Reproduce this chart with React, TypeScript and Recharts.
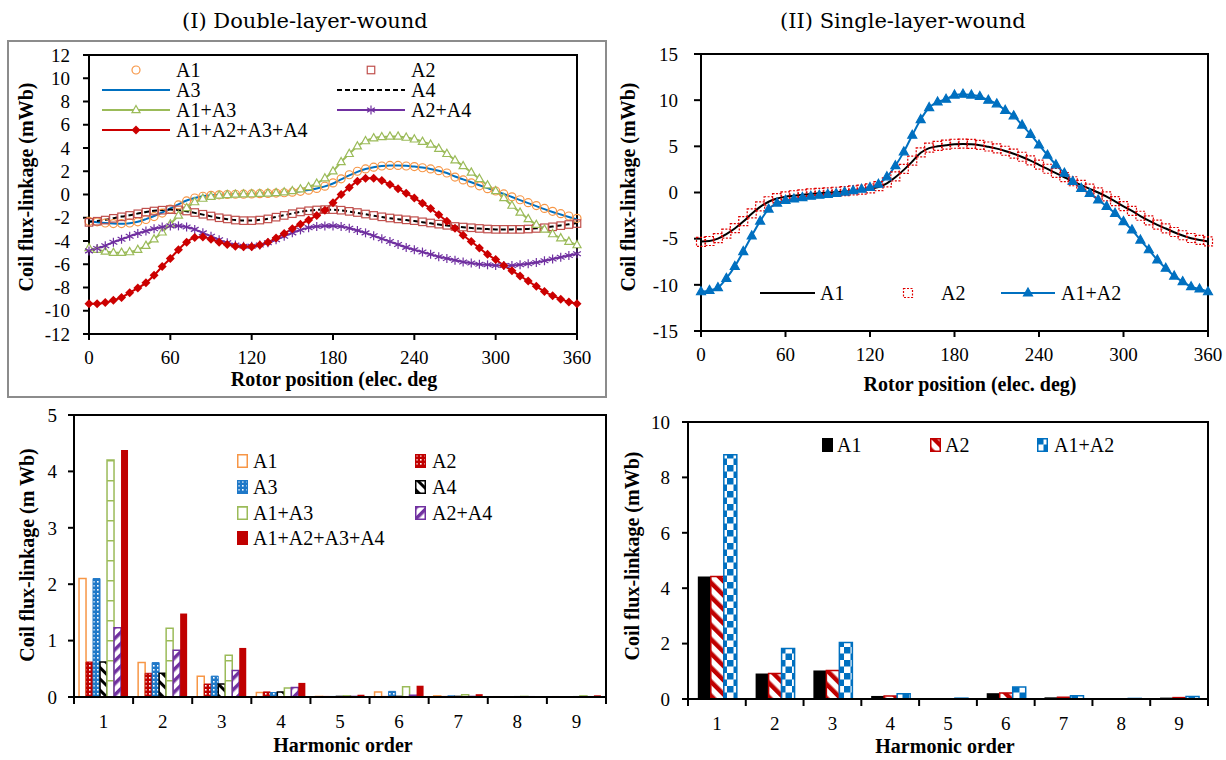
import React from "react";
import { LineChart, Line, XAxis, YAxis, ReferenceArea, BarChart, Bar } from "recharts";

const SERIF = "'Liberation Serif', 'Times New Roman', serif";
const TITLE_FONT = "'DejaVu Serif', serif";

const C = {
  orange: "#F79646",
  brown: "#C0504D",
  blue: "#0070C0",
  green: "#9BBB59",
  purple: "#7030A0",
  red: "#CC0000",
  black: "#000000",
};

/* ── data: rotor position (elec. deg) ───────────────────────── */
const angles = [
  0, 6, 12, 18, 24, 30, 36, 42, 48, 54, 60, 66, 72, 78, 84, 90, 96, 102, 108, 114, 120,
  126, 132, 138, 144, 150, 156, 162, 168, 174, 180, 186, 192, 198, 204, 210, 216, 222, 228,
  234, 240, 246, 252, 258, 264, 270, 276, 282, 288, 294, 300, 306, 312, 318, 324, 330, 336,
  342, 348, 354, 360,
];
const xTicks = [0, 60, 120, 180, 240, 300, 360];
const dlYTicks = [-12, -10, -8, -6, -4, -2, 0, 2, 4, 6, 8, 10, 12];
const slYTicks = [-15, -10, -5, 0, 5, 10, 15];

// (I) double-layer-wound flux-linkage (mWb)
const dlA1 = [
  -2.3, -2.35, -2.45, -2.5, -2.5, -2.45, -2.35, -2.15, -1.9, -1.6,
  -1.25, -0.9, -0.55, -0.3, -0.15, -0.07, -0.03, 0, 0.02, 0.03,
  0.05, 0.07, 0.09, 0.12, 0.15, 0.2, 0.27, 0.37, 0.52, 0.72,
  1.0, 1.35, 1.7, 2.0, 2.2, 2.35, 2.45, 2.5, 2.5, 2.45,
  2.4, 2.3, 2.2, 2.05, 1.85, 1.5, 1.25, 1.0, 0.75, 0.5,
  0.3, 0.05, -0.2, -0.45, -0.7, -0.95, -1.2, -1.45, -1.65, -1.85,
  -2.05,
];
const dlA2 = [
  -2.4, -2.3, -2.2, -2.05, -1.92, -1.8, -1.66, -1.52, -1.42, -1.35,
  -1.3, -1.32, -1.42, -1.55, -1.7, -1.85, -2.0, -2.1, -2.2, -2.25,
  -2.25, -2.2, -2.1, -1.95, -1.8, -1.65, -1.5, -1.4, -1.33, -1.3,
  -1.3, -1.35, -1.45, -1.55, -1.68, -1.8, -1.92, -2.02, -2.1, -2.18,
  -2.25, -2.35, -2.45, -2.55, -2.65, -2.75, -2.8, -2.86, -2.92, -2.97,
  -3.0, -3.0, -3.0, -3.0, -2.97, -2.92, -2.86, -2.78, -2.68, -2.58,
  -2.5,
];
const dlA3 = [
  -2.3, -2.38, -2.45, -2.5, -2.52, -2.47, -2.35, -2.12, -1.85, -1.55,
  -1.2, -0.85, -0.52, -0.3, -0.15, -0.08, -0.03, 0, 0.02, 0.03,
  0.05, 0.07, 0.09, 0.12, 0.16, 0.21, 0.28, 0.38, 0.52, 0.7,
  0.95, 1.3, 1.65, 1.95, 2.2, 2.35, 2.45, 2.5, 2.5, 2.47,
  2.4, 2.32, 2.2, 2.05, 1.85, 1.55, 1.3, 1.05, 0.8, 0.55,
  0.3, 0.05, -0.22, -0.48, -0.74, -1.0, -1.26, -1.5, -1.72, -1.94,
  -2.15,
];
const dlA4 = [
  -2.35, -2.27, -2.17, -2.04, -1.9, -1.78, -1.64, -1.5, -1.4, -1.33,
  -1.3, -1.34, -1.45, -1.58, -1.73, -1.88, -2.02, -2.12, -2.2, -2.24,
  -2.24, -2.18, -2.08, -1.93, -1.78, -1.63, -1.49, -1.39, -1.32, -1.3,
  -1.31, -1.37, -1.47, -1.58, -1.7, -1.82, -1.94, -2.04, -2.12, -2.2,
  -2.28, -2.38, -2.48, -2.58, -2.67, -2.76, -2.82, -2.88, -2.93, -2.97,
  -3.0, -3.0, -3.0, -2.99, -2.96, -2.91, -2.84, -2.76, -2.66, -2.56,
  -2.45,
];
const dlA1A3 = [
  -4.6, -4.75, -4.9, -5.0, -5.0, -4.95, -4.75, -4.4, -3.85, -3.25,
  -2.55, -1.8, -1.15, -0.65, -0.35, -0.18, -0.08, -0.03, 0, 0.02,
  0.04, 0.07, 0.1, 0.14, 0.2, 0.3, 0.45, 0.65, 0.95, 1.4,
  2.0, 2.8, 3.5, 4.15, 4.6, 4.85, 4.95, 5.0, 5.0, 4.9,
  4.75, 4.55, 4.3, 3.95, 3.5, 2.95, 2.45, 1.9, 1.35, 0.8,
  0.3, -0.3, -0.95, -1.55, -2.1, -2.6, -3.0, -3.4, -3.75, -4.05,
  -4.35,
];
const dlA2A4 = [
  -4.85, -4.65, -4.4, -4.1, -3.85, -3.6, -3.35, -3.15, -2.95, -2.8,
  -2.7, -2.7, -2.8, -3.0, -3.3, -3.6, -3.9, -4.15, -4.35, -4.45,
  -4.45, -4.35, -4.15, -3.9, -3.6, -3.3, -3.05, -2.85, -2.75, -2.7,
  -2.7, -2.75, -2.9, -3.1, -3.3, -3.55, -3.8, -4.05, -4.3, -4.55,
  -4.75, -4.95, -5.15, -5.35, -5.5, -5.65, -5.8, -5.9, -6.0, -6.05,
  -6.1, -6.1, -6.1, -6.05, -5.95, -5.85, -5.7, -5.55, -5.4, -5.25,
  -5.1,
];
const dlSum = [
  -9.4, -9.4, -9.3, -9.1, -8.85, -8.45, -8.05, -7.6, -6.95, -6.2,
  -5.5, -4.75, -4.1, -3.7, -3.65, -3.85, -4.1, -4.3, -4.45, -4.5,
  -4.5, -4.35, -4.1, -3.75, -3.35, -2.95, -2.55, -2.2, -1.8, -1.35,
  -0.7, 0.0, 0.6, 1.15, 1.4, 1.4, 1.2, 0.85, 0.5, 0.1,
  -0.3, -0.75, -1.2, -1.75, -2.3, -2.9, -3.5, -4.05, -4.6, -5.15,
  -5.6, -6.1, -6.55, -7.0, -7.45, -7.9, -8.35, -8.7, -9.0, -9.25,
  -9.4,
];

// (II) single-layer-wound flux-linkage (mWb)
const slA1 = [
  -5.3, -5.25, -5.0, -4.5, -3.9, -3.15, -2.3, -1.55, -1.0, -0.65,
  -0.45, -0.35, -0.25, -0.15, -0.08, 0, 0.05, 0.1, 0.18, 0.28,
  0.4, 0.6, 1.0, 1.65, 2.45, 3.35, 4.3, 4.8, 5.0, 5.12,
  5.22, 5.25, 5.22, 5.12, 4.95, 4.75, 4.5, 4.2, 3.85, 3.45,
  3.0, 2.55, 2.1, 1.65, 1.2, 0.8, 0.4, 0.0, -0.45, -0.95,
  -1.5, -2.0, -2.55, -3.05, -3.5, -3.9, -4.3, -4.65, -4.95, -5.15,
  -5.3,
];
const slA2 = [
  -5.35, -5.25, -4.95, -4.45, -3.85, -3.1, -2.25, -1.5, -0.95, -0.62,
  -0.42, -0.3, -0.2, -0.1, -0.04, 0.02, 0.08, 0.14, 0.22, 0.32,
  0.45, 0.68, 1.1, 1.75, 2.55, 3.45, 4.35, 4.85, 5.05, 5.18,
  5.28, 5.3, 5.27, 5.16, 4.98, 4.78, 4.52, 4.22, 3.87, 3.47,
  3.02, 2.57, 2.12, 1.67, 1.22, 0.82, 0.42, 0.02, -0.43, -0.93,
  -1.48, -1.98, -2.52, -3.02, -3.48, -3.88, -4.28, -4.63, -4.93, -5.13,
  -5.3,
];
const slA1A2 = [
  -10.75, -10.6, -10.3, -9.3, -8.0, -6.4, -4.7, -3.1, -1.8, -1.15,
  -0.85, -0.7, -0.55, -0.4, -0.3, -0.2, -0.1, 0.05, 0.2, 0.35,
  0.55, 0.9, 1.7, 2.9, 4.4, 6.2, 7.9, 9.2, 9.8, 10.1,
  10.55, 10.65, 10.55, 10.4, 10.0, 9.6, 8.9, 8.3, 7.3, 6.3,
  5.15, 4.05, 3.0, 2.1, 1.2, 0.45, -0.1, -0.8, -1.5, -2.25,
  -3.15, -4.05, -5.15, -6.2, -7.3, -8.2, -9.05, -9.65, -10.2, -10.45,
  -10.75,
];

/* ── data: harmonic spectra (mWb) ───────────────────────────── */
const harmonics = ["1", "2", "3", "4", "5", "6", "7", "8", "9"];
const dlBarTicks = [0, 1, 2, 3, 4, 5];
const slBarTicks = [0, 2, 4, 6, 8, 10];

const hA1 = [2.1, 0.61, 0.37, 0.08, 0.01, 0.09, 0.02, 0.005, 0.005];
const hA2 = [0.62, 0.42, 0.23, 0.09, 0.01, 0.01, 0.01, 0.005, 0.005];
const hA3 = [2.1, 0.61, 0.37, 0.08, 0.01, 0.1, 0.02, 0.005, 0.005];
const hA4 = [0.62, 0.42, 0.23, 0.09, 0.01, 0.01, 0.01, 0.005, 0.005];
const hA1A3 = [4.2, 1.22, 0.74, 0.16, 0.02, 0.18, 0.04, 0.01, 0.02];
const hA2A4 = [1.23, 0.83, 0.47, 0.17, 0.01, 0.03, 0.01, 0.005, 0.005];
const hSum = [4.38, 1.48, 0.87, 0.25, 0.04, 0.2, 0.05, 0.01, 0.03];

const sA1 = [4.42, 0.92, 1.03, 0.11, 0.01, 0.21, 0.06, 0.01, 0.05];
const sA2 = [4.42, 0.92, 1.03, 0.11, 0.01, 0.22, 0.06, 0.01, 0.05];
const sA1A2 = [8.82, 1.82, 2.04, 0.19, 0.03, 0.43, 0.12, 0.02, 0.09];

const dlLineData = angles.map((a, i) => ({
  a, A1: dlA1[i], A2: dlA2[i], A3: dlA3[i], A4: dlA4[i],
  A1A3: dlA1A3[i], A2A4: dlA2A4[i], Sum: dlSum[i],
}));
const slLineData = angles.map((a, i) => ({ a, A1: slA1[i], A2: slA2[i], A1A2: slA1A2[i] }));
const dlBarData = harmonics.map((h, i) => ({
  h, A1: hA1[i], A2: hA2[i], A3: hA3[i], A4: hA4[i], A1A3: hA1A3[i], A2A4: hA2A4[i], Sum: hSum[i],
}));
const slBarData = harmonics.map((h, i) => ({ h, A1: sA1[i], A2: sA2[i], A1A2: sA1A2[i] }));

/* ── marker shapes ─────────────────────────────────────────── */
type Shape = (cx: number, cy: number, key?: string) => React.ReactElement;

const circleShape = (color: string): Shape => (cx, cy, key) => (
  <circle key={key} cx={cx} cy={cy} r={4} fill="none" stroke={color} strokeWidth={1.2} />
);
const squareShape = (color: string, s: number, dash?: string): Shape => (cx, cy, key) => (
  <rect key={key} x={cx - s / 2} y={cy - s / 2} width={s} height={s} fill="none"
    stroke={color} strokeWidth={1.2} strokeDasharray={dash} />
);
const triangleShape = (color: string, s: number, filled: boolean): Shape => (cx, cy, key) => (
  <path key={key}
    d={`M${cx},${cy - s} L${cx + s * 0.9},${cy + s * 0.6} L${cx - s * 0.9},${cy + s * 0.6} Z`}
    fill={filled ? color : "#fff"} stroke={color} strokeWidth={1.2} />
);
const diamondShape = (color: string, s: number): Shape => (cx, cy, key) => (
  <path key={key} d={`M${cx},${cy - s} L${cx + s},${cy} L${cx},${cy + s} L${cx - s},${cy} Z`} fill={color} />
);
const starShape = (color: string, s: number): Shape => (cx, cy, key) => (
  <g key={key} stroke={color} strokeWidth={1.2}>
    <line x1={cx} y1={cy - s} x2={cx} y2={cy + s} />
    <line x1={cx - s * 0.87} y1={cy - s / 2} x2={cx + s * 0.87} y2={cy + s / 2} />
    <line x1={cx - s * 0.87} y1={cy + s / 2} x2={cx + s * 0.87} y2={cy - s / 2} />
  </g>
);

const asDot = (shape: Shape) => (p: { cx?: number; cy?: number; index?: number }) =>
  shape(p.cx ?? 0, p.cy ?? 0, `d${p.index}`);

const mA1 = circleShape(C.orange);
const mA2 = squareShape(C.brown, 7.5);
const mA1A3 = triangleShape(C.green, 4.5, false);
const mA2A4 = starShape(C.purple, 4.5);
const mSum = diamondShape(C.red, 4.5);
const mSlA2 = squareShape("#E00000", 9, "2 1.5");
const mSlA1A2 = triangleShape(C.blue, 5, true);

/* ── shared bits ───────────────────────────────────────────── */
const axisLine = { stroke: "#000", strokeWidth: 2 };
const tickFont = { fontSize: 19, fill: "#000", fontFamily: SERIF };

function BandTick(props: any) {
  const { x, y, payload, index, bw, count } = props;
  const half = bw / 2;
  return (
    <g>
      <line x1={x - half} x2={x - half} y1={y} y2={y + 7} stroke="#000" strokeWidth={2} />
      {index === count - 1 && (
        <line x1={x + half} x2={x + half} y1={y} y2={y + 7} stroke="#000" strokeWidth={2} />
      )}
      <text x={x} y={y + 31} textAnchor="middle" fontSize={19} fontFamily={SERIF} fill="#000">
        {payload.value}
      </text>
    </g>
  );
}

function LineSwatch({ w, color, dash, marker }: { w: number; color?: string; dash?: string; marker?: Shape }) {
  return (
    <svg width={w} height={20} style={{ display: "block" }}>
      {color && <line x1={0} x2={w} y1={10} y2={10} stroke={color} strokeWidth={2} strokeDasharray={dash} />}
      {marker && marker(w / 2, 10)}
    </svg>
  );
}

function BoxSwatch({ fill, stroke }: { fill: string; stroke: string }) {
  return (
    <svg width={11} height={14} style={{ display: "block" }}>
      <rect x={0.75} y={0.75} width={9.5} height={12.5} fill={fill} stroke={stroke} strokeWidth={1.5} />
    </svg>
  );
}

function LegendItem({ left, cy, gap, label, children }: {
  left: number; cy: number; gap: number; label: string; children: React.ReactNode;
}) {
  return (
    <div style={{
      position: "absolute", left, top: cy - 12, height: 24, display: "flex", alignItems: "center",
      fontFamily: SERIF, fontSize: 20, whiteSpace: "nowrap", lineHeight: "24px",
    }}>
      {children}
      <span style={{ marginLeft: gap }}>{label}</span>
    </div>
  );
}

function AxisTitle({ x, y, text, rotate }: { x: number; y: number; text: string; rotate?: boolean }) {
  return (
    <div style={{
      position: "absolute", left: x, top: y, whiteSpace: "nowrap",
      transform: `translate(-50%, -50%)${rotate ? " rotate(-90deg)" : ""}`,
      fontFamily: SERIF, fontWeight: "bold", fontSize: 20, lineHeight: "22px",
    }}>
      {text}
    </div>
  );
}

function Patterns() {
  return (
    <svg width={0} height={0} style={{ position: "absolute" }}>
      <defs>
        <pattern id="pA2" width={4} height={4} patternUnits="userSpaceOnUse">
          <rect width={4} height={4} fill="#C00000" />
          <rect x={1} y={1} width={1.6} height={1.6} fill="#fff" />
        </pattern>
        <pattern id="pA3" width={4} height={4} patternUnits="userSpaceOnUse">
          <rect width={4} height={4} fill="#1F78C8" />
          <rect x={1} y={1} width={1.6} height={1.6} fill="#fff" />
        </pattern>
        <pattern id="pA4" width={8} height={8} patternUnits="userSpaceOnUse" patternTransform="rotate(-45)">
          <rect width={8} height={8} fill="#fff" />
          <rect width={3} height={8} fill="#000" />
        </pattern>
        <pattern id="pA1A3" width={4} height={20} patternUnits="userSpaceOnUse">
          <rect width={4} height={20} fill="#fff" />
          <rect width={4} height={1.5} fill={C.green} />
        </pattern>
        <pattern id="pA2A4" width={8} height={8} patternUnits="userSpaceOnUse" patternTransform="rotate(45)">
          <rect width={8} height={8} fill="#fff" />
          <rect width={3.5} height={8} fill={C.purple} />
        </pattern>
        <pattern id="pSlA2" width={10} height={10} patternUnits="userSpaceOnUse" patternTransform="rotate(-45)">
          <rect width={10} height={10} fill="#fff" />
          <rect width={4.5} height={10} fill="#C00000" />
        </pattern>
        <pattern id="pSlA1A2" width={13} height={13} patternUnits="userSpaceOnUse">
          <rect width={13} height={13} fill="#fff" />
          <rect width={6.5} height={6.5} fill={C.blue} />
          <rect x={6.5} y={6.5} width={6.5} height={6.5} fill={C.blue} />
        </pattern>
      </defs>
    </svg>
  );
}

/* ── panels ────────────────────────────────────────────────── */
function DoubleLayerLines() {
  return (
    <div style={{ position: "absolute", left: 0, top: 0 }}>
      <LineChart width={610} height={400} data={dlLineData} margin={{ top: 55, right: 33, bottom: 36, left: 39 }}>
        <XAxis dataKey="a" type="number" domain={[0, 360]} ticks={xTicks} interval={0} height={30}
          axisLine={axisLine} tickLine={axisLine} tickSize={6} tickMargin={11} tick={tickFont} />
        <YAxis type="number" domain={[-12, 12]} ticks={dlYTicks} interval={0} width={50}
          axisLine={axisLine} tickLine={axisLine} tickSize={6} tickMargin={13} tick={tickFont} />
        <ReferenceArea y1={-12} y2={12} fill="none" stroke="#000" strokeWidth={2} />
        <Line dataKey="A1" type="monotone" stroke="none" dot={asDot(mA1)} activeDot={false} isAnimationActive={false} />
        <Line dataKey="A2" type="monotone" stroke="none" dot={asDot(mA2)} activeDot={false} isAnimationActive={false} />
        <Line dataKey="A3" type="monotone" stroke={C.blue} strokeWidth={2} dot={false} activeDot={false} isAnimationActive={false} />
        <Line dataKey="A4" type="monotone" stroke="#000" strokeWidth={2} strokeDasharray="5 3" dot={false} activeDot={false} isAnimationActive={false} />
        <Line dataKey="A1A3" type="monotone" stroke={C.green} strokeWidth={2} dot={asDot(mA1A3)} activeDot={false} isAnimationActive={false} />
        <Line dataKey="A2A4" type="monotone" stroke={C.purple} strokeWidth={2} dot={asDot(mA2A4)} activeDot={false} isAnimationActive={false} />
        <Line dataKey="Sum" type="monotone" stroke={C.red} strokeWidth={2} dot={asDot(mSum)} activeDot={false} isAnimationActive={false} />
      </LineChart>
    </div>
  );
}

function SingleLayerLines() {
  return (
    <div style={{ position: "absolute", left: 610, top: 0 }}>
      <LineChart width={616} height={400} data={slLineData} margin={{ top: 54, right: 18, bottom: 39, left: 41 }}>
        <XAxis dataKey="a" type="number" domain={[0, 360]} ticks={xTicks} interval={0} height={30}
          axisLine={axisLine} tickLine={axisLine} tickSize={6} tickMargin={11} tick={tickFont} />
        <YAxis type="number" domain={[-15, 15]} ticks={slYTicks} interval={0} width={50}
          axisLine={axisLine} tickLine={axisLine} tickSize={7} tickMargin={16} tick={tickFont} />
        <ReferenceArea y1={-15} y2={15} fill="none" stroke="#000" strokeWidth={2} />
        <Line dataKey="A1" type="monotone" stroke="#000" strokeWidth={2} dot={false} activeDot={false} isAnimationActive={false} />
        <Line dataKey="A2" type="monotone" stroke="none" dot={asDot(mSlA2)} activeDot={false} isAnimationActive={false} />
        <Line dataKey="A1A2" type="monotone" stroke={C.blue} strokeWidth={2} dot={asDot(mSlA1A2)} activeDot={false} isAnimationActive={false} />
      </LineChart>
    </div>
  );
}

const DL_BW = (610 - 34 - 40 - 4) / 9;
const SL_BW = (616 - 28 - 50 - 18) / 9;

function DoubleLayerBars() {
  return (
    <div style={{ position: "absolute", left: 0, top: 400 }}>
      <BarChart width={610} height={360} data={dlBarData} margin={{ top: 15, right: 4, bottom: 33, left: 34 }}
        barCategoryGap="8.5%" barGap={0}>
        <XAxis dataKey="h" height={30} interval={0} axisLine={axisLine} tickLine={false} tickSize={0} tickMargin={0}
          tick={<BandTick bw={DL_BW} count={harmonics.length} />} />
        <YAxis type="number" domain={[0, 5]} ticks={dlBarTicks} interval={0} width={40}
          axisLine={axisLine} tickLine={axisLine} tickSize={6} tickMargin={11} tick={tickFont} />
        <ReferenceArea y1={0} y2={5} fill="none" stroke="#000" strokeWidth={2} />
        <Bar dataKey="A1" fill="#fff" stroke={C.orange} strokeWidth={1.5} isAnimationActive={false} />
        <Bar dataKey="A2" fill="url(#pA2)" stroke="#C00000" strokeWidth={1} isAnimationActive={false} />
        <Bar dataKey="A3" fill="url(#pA3)" stroke="#1F78C8" strokeWidth={1} isAnimationActive={false} />
        <Bar dataKey="A4" fill="url(#pA4)" stroke="#000" strokeWidth={1.5} isAnimationActive={false} />
        <Bar dataKey="A1A3" fill="url(#pA1A3)" stroke={C.green} strokeWidth={1.5} isAnimationActive={false} />
        <Bar dataKey="A2A4" fill="url(#pA2A4)" stroke={C.purple} strokeWidth={1.5} isAnimationActive={false} />
        <Bar dataKey="Sum" fill="#C00000" isAnimationActive={false} />
      </BarChart>
    </div>
  );
}

function SingleLayerBars() {
  return (
    <div style={{ position: "absolute", left: 610, top: 400 }}>
      <BarChart width={616} height={360} data={slBarData} margin={{ top: 22, right: 18, bottom: 31, left: 28 }}
        barCategoryGap="17%" barGap={0}>
        <XAxis dataKey="h" height={30} interval={0} axisLine={axisLine} tickLine={false} tickSize={0} tickMargin={0}
          tick={<BandTick bw={SL_BW} count={harmonics.length} />} />
        <YAxis type="number" domain={[0, 10]} ticks={slBarTicks} interval={0} width={50}
          axisLine={axisLine} tickLine={axisLine} tickSize={6} tickMargin={12} tick={tickFont} />
        <ReferenceArea y1={0} y2={10} fill="none" stroke="#000" strokeWidth={2} />
        <Bar dataKey="A1" fill="#000" isAnimationActive={false} />
        <Bar dataKey="A2" fill="url(#pSlA2)" stroke="#C00000" strokeWidth={1.5} isAnimationActive={false} />
        <Bar dataKey="A1A2" fill="url(#pSlA1A2)" stroke={C.blue} strokeWidth={1.5} isAnimationActive={false} />
      </BarChart>
    </div>
  );
}

export default function App() {
  return (
    <div style={{
      position: "absolute", left: 0, top: 0, width: 1226, height: 760, background: "#fff",
      overflow: "hidden", fontFamily: SERIF, color: "#000",
    }}>
      <Patterns />

      {/* titles */}
      <div style={{ position: "absolute", left: 182, top: 8, fontFamily: TITLE_FONT, fontSize: 21, lineHeight: "26px", whiteSpace: "nowrap" }}>
        (I) Double-layer-wound
      </div>
      <div style={{ position: "absolute", left: 780, top: 8, fontFamily: TITLE_FONT, fontSize: 21, lineHeight: "26px", whiteSpace: "nowrap" }}>
        (II) Single-layer-wound
      </div>

      {/* frame round panel I */}
      <div style={{ position: "absolute", left: 7, top: 40, width: 596, height: 354, border: "2px solid #8c8c8c" }} />

      <DoubleLayerLines />
      <SingleLayerLines />
      <DoubleLayerBars />
      <SingleLayerBars />

      {/* legend: panel I lines */}
      <LegendItem left={102} cy={70} gap={6} label="A1"><LineSwatch w={68} marker={mA1} /></LegendItem>
      <LegendItem left={337} cy={70} gap={6} label="A2"><LineSwatch w={68} marker={mA2} /></LegendItem>
      <LegendItem left={102} cy={90} gap={6} label="A3"><LineSwatch w={68} color={C.blue} /></LegendItem>
      <LegendItem left={337} cy={90} gap={6} label="A4"><LineSwatch w={68} color="#000" dash="5 3" /></LegendItem>
      <LegendItem left={102} cy={110} gap={6} label="A1+A3"><LineSwatch w={68} color={C.green} marker={mA1A3} /></LegendItem>
      <LegendItem left={337} cy={110} gap={6} label="A2+A4"><LineSwatch w={68} color={C.purple} marker={mA2A4} /></LegendItem>
      <LegendItem left={102} cy={130} gap={6} label="A1+A2+A3+A4"><LineSwatch w={68} color={C.red} marker={mSum} /></LegendItem>

      {/* legend: panel II lines */}
      <LegendItem left={760} cy={293} gap={5} label="A1"><LineSwatch w={55} color="#000" /></LegendItem>
      <LegendItem left={898} cy={293} gap={23} label="A2"><LineSwatch w={20} marker={mSlA2} /></LegendItem>
      <LegendItem left={1001} cy={293} gap={6} label="A1+A2"><LineSwatch w={54} color={C.blue} marker={mSlA1A2} /></LegendItem>

      {/* legend: panel I bars */}
      <LegendItem left={237} cy={461} gap={5} label="A1"><BoxSwatch fill="#fff" stroke={C.orange} /></LegendItem>
      <LegendItem left={415} cy={461} gap={6} label="A2"><BoxSwatch fill="url(#pA2)" stroke="#C00000" /></LegendItem>
      <LegendItem left={237} cy={487} gap={5} label="A3"><BoxSwatch fill="url(#pA3)" stroke="#1F78C8" /></LegendItem>
      <LegendItem left={415} cy={487} gap={6} label="A4"><BoxSwatch fill="url(#pA4)" stroke="#000" /></LegendItem>
      <LegendItem left={237} cy={513} gap={5} label="A1+A3"><BoxSwatch fill="url(#pA1A3)" stroke={C.green} /></LegendItem>
      <LegendItem left={415} cy={513} gap={6} label="A2+A4"><BoxSwatch fill="url(#pA2A4)" stroke={C.purple} /></LegendItem>
      <LegendItem left={237} cy={538} gap={5} label="A1+A2+A3+A4"><BoxSwatch fill="#C00000" stroke="#C00000" /></LegendItem>

      {/* legend: panel II bars */}
      <LegendItem left={822} cy={445} gap={4} label="A1"><BoxSwatch fill="#000" stroke="#000" /></LegendItem>
      <LegendItem left={930} cy={445} gap={4} label="A2"><BoxSwatch fill="url(#pSlA2)" stroke="#C00000" /></LegendItem>
      <LegendItem left={1037} cy={445} gap={6} label="A1+A2"><BoxSwatch fill="url(#pSlA1A2)" stroke={C.blue} /></LegendItem>

      {/* axis titles */}
      <AxisTitle x={334} y={379} text="Rotor position (elec. deg" />
      <AxisTitle x={26} y={187} text="Coil flux-linkage (mWb)" rotate />
      <AxisTitle x={970} y={384} text="Rotor position (elec. deg)" />
      <AxisTitle x={628} y={187} text="Coil flux-linkage (mWb)" rotate />
      <AxisTitle x={343} y={745} text="Harmonic order" />
      <AxisTitle x={27} y={555} text="Coil flux-linkage (m Wb)" rotate />
      <AxisTitle x={945} y={746} text="Harmonic order" />
      <AxisTitle x={632} y={556} text="Coil flux-linkage (mWb)" rotate />
    </div>
  );
}
